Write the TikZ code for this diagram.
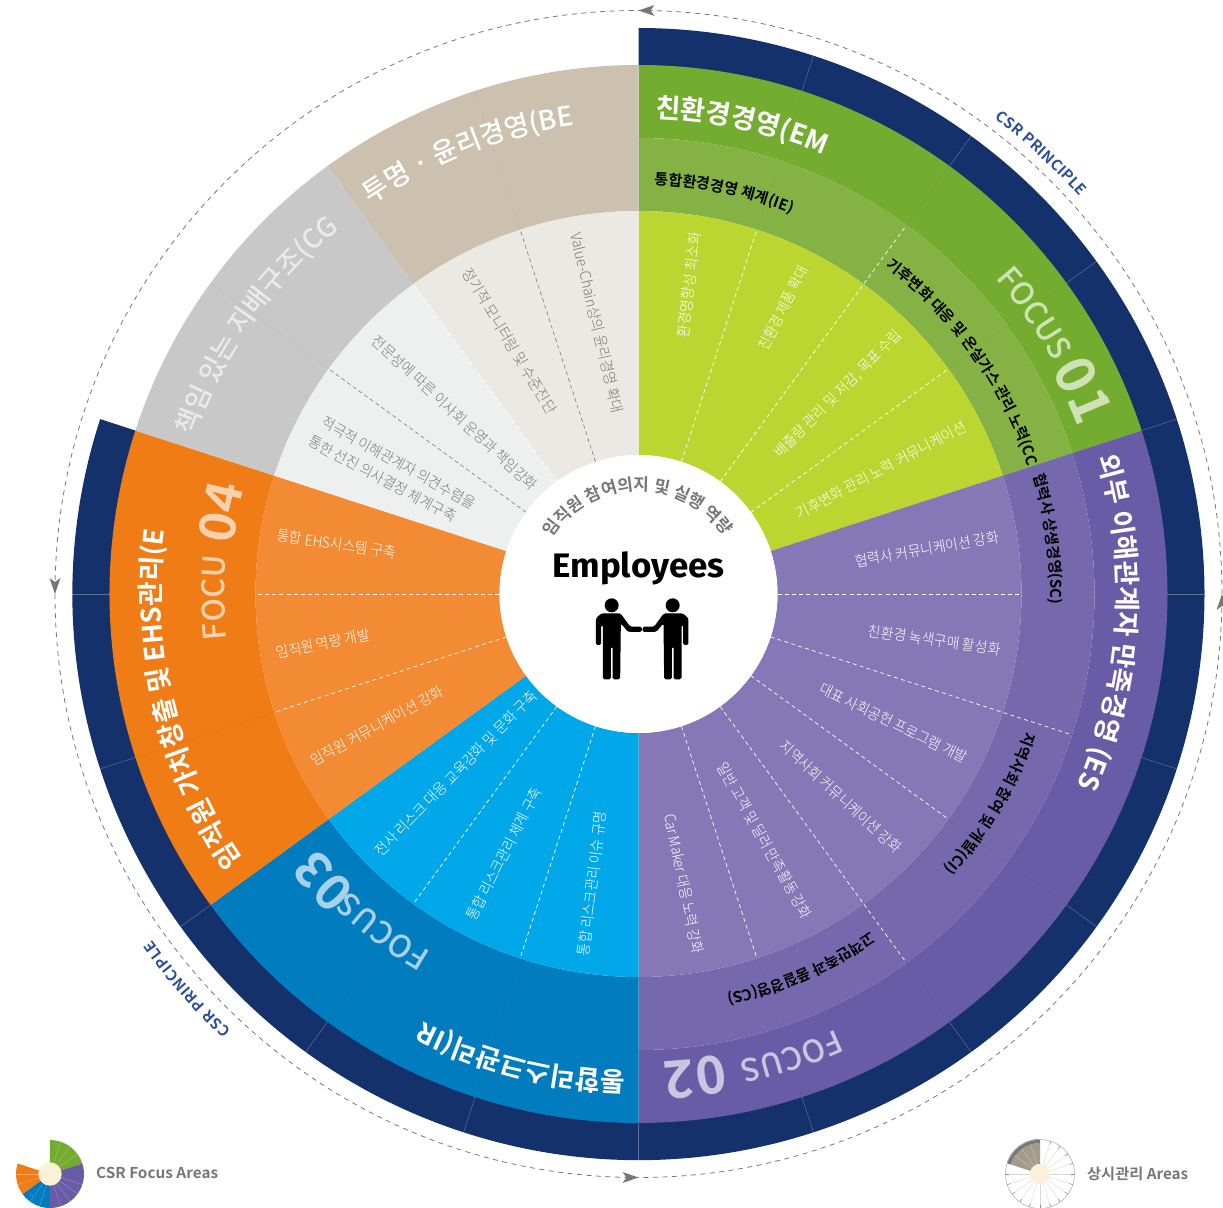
\documentclass[tikz,border=0pt]{standalone}
\usepackage{fontspec}
\usepackage{graphicx}
\usetikzlibrary{decorations.text}
\newfontfamily\krr{Noto Sans CJK KR}
\newfontfamily\krl{Noto Sans CJK KR Light}
\newfontfamily\krm{Noto Sans CJK KR Medium}
\newfontfamily\krb{Noto Sans CJK KR Bold}
\newfontfamily\firab{Fira Sans Bold}
\definecolor{navy}{HTML}{15316B}
\definecolor{gO}{HTML}{74AC2F}\definecolor{gM}{HTML}{85B244}\definecolor{gI}{HTML}{BCD631}
\definecolor{pO}{HTML}{695CA6}\definecolor{pM}{HTML}{7568AC}\definecolor{pI}{HTML}{8678B6}
\definecolor{bO}{HTML}{007CBF}\definecolor{bI}{HTML}{00A7E9}
\definecolor{oO}{HTML}{F07C15}\definecolor{oI}{HTML}{F28B33}
\definecolor{sO}{HTML}{C8C8C8}\definecolor{sI}{HTML}{EEF0EF}
\definecolor{tO}{HTML}{CCC1AF}\definecolor{tI}{HTML}{ECE8E3}
\definecolor{lgray}{HTML}{7C7A7A}\definecolor{cgray}{HTML}{7A7676}
\definecolor{csrb}{HTML}{2B4F9B}\definecolor{cream}{HTML}{FDF0D8}
\newcommand{\sect}[5]{\fill[#5] (#3:#1pt) arc[start angle=#3,end angle=#4,radius=#1pt] -- (#4:#2pt) arc[start angle=#4,end angle=#3,radius=#2pt] -- cycle;}
\newcommand{\arct}[6]{\path[decorate,decoration={text along path,text color=#2,text align={fit to path},text={|#1|#6}}] (#4:#3pt) arc[start angle=#4,end angle=#5,radius=#3pt];}
\newcounter{lblc}
\newcommand{\rl}[6]{\stepcounter{lblc}\node[#1,rotate=#4] (lbl\arabic{lblc}) at ({#2-638.5},{594-#3}) {\resizebox{#5pt}{\height}{#6}};}
\newcommand{\personshape}{%
 \fill[rounded corners=1.6pt] (-122,490) -- (-65,490) -- (-36,530) -- (-1,530) -- (-1,546) -- (-42,546) -- (-64,520) -- (-66,688) -- (-89,688) -- (-89,590) -- (-94,590) -- (-94,688) -- (-118,688) -- (-118,525) -- (-123,525) -- (-123,585) -- (-139,585) -- (-139,505) -- cycle;
 \fill (-91.5,466) circle[radius=7pt];}
\newcommand{\arrowtip}[1]{\fill[cgray,rotate=#1,shift={(583.5,0)}] (0,0) -- (-5.5,-16) -- (0,-12) -- (5.5,-16) -- cycle;}
\tikzset{
 radw/.style={inner sep=0,text=white,font=\krl\fontsize{15}{16}\selectfont},
 radg/.style={inner sep=0,text=lgray,font=\krl\fontsize{15}{16}\selectfont},
 hair/.style={line width=.4pt,black,opacity=.06},
 hairn/.style={line width=.5pt,white,opacity=.3},
 divw/.style={white,line width=.7pt,dash pattern=on 4pt off 3.2pt},
 divg/.style={lgray,line width=.6pt,dash pattern=on 4pt off 3pt},
 legendt/.style={inner sep=0,text=cgray,font=\krb\fontsize{15}{17}\selectfont},
}
\begin{document}
\begin{tikzpicture}[x=1pt,y=1pt]
\useasboundingbox (-638.5,-613) rectangle (584.5,594);
% outer dashed circle
\draw[cgray,line width=.8pt,dash pattern=on 5pt off 4.5pt] (0,0) circle[radius=583.5pt];
\arrowtip{90}\arrowtip{0}\arrowtip{180}\arrowtip{-90}
% navy ring
\sect{528}{566}{90}{-198}{navy}
% sectors
\sect{456}{529}{90}{18}{gO}\sect{383}{456}{90}{18}{gM}\sect{139}{383}{90}{18}{gI}
\sect{456}{529}{18}{-90}{pO}\sect{383}{456}{18}{-90}{pM}\sect{139}{383}{18}{-90}{pI}
\sect{383}{529}{-90}{-144}{bO}\sect{139}{383}{-90}{-144}{bI}
\sect{383}{529}{-144}{-198}{oO}\sect{139}{383}{-144}{-198}{oI}
\sect{383}{529}{162}{126}{sO}\sect{139}{383}{162}{126}{sI}
\sect{383}{529}{126}{90}{tO}\sect{139}{383}{126}{90}{tI}
% hairlines
\foreach \a in {72,54,36,18,0,-18,-36,-54,-72,-90,-108,-126,-144,180,198}{\draw[hairn] (\a:529pt) -- (\a:566pt);}
\foreach \a in {72,54,36,-18,-36,-54,-72,-108,-126,198,144,108}{\draw[hair] (\a:383pt) -- (\a:529pt);}
% dashed dividers
\foreach \a/\r in {72/383,54/455,36/383,0/383,-18/455,-36/383,-54/455,-72/383,-108/383,-126/383,180/383,198/383,126/383}{\draw[divw] (\a:139pt) -- (\a:\r pt);}
\foreach \a in {144,108}{\draw[divg] (\a:139pt) -- (\a:383pt);}
% outer ring titles
\arct{\krb\fontsize{27}{27}\selectfont}{white}{477}{88}{67}{친환경경영(EM)^^a0}
\arct{\krb\fontsize{27}{27}\selectfont}{white}{479}{16.5}{-24.2}{외부 이해관계자  만족경영 (ES)^^a0}
\arct{\krb\fontsize{27}{27}\selectfont}{white}{479}{-91.5}{-116.7}{통합리스크관리(IR)^^a0}
\arct{\krb\fontsize{27}{27}\selectfont}{white}{478}{214}{171.6}{임직원 가치창출 및 EHS관리(EV)^^a0}
\arct{\krm\fontsize{27}{27}\selectfont}{white!92!black}{472}{160.5}{129.7}{책임 있는 지배구조(CG)^^a0}
\arct{\krm\fontsize{27}{27}\selectfont}{white}{473}{124.5}{97.7}{투명 · 윤리경영(BE)^^a0}
% middle ring titles
\arct{\krb\fontsize{15}{15}\selectfont}{black}{410}{87.8}{67.6}{통합환경경영 체계(IE)^^a0}
\arct{\krb\fontsize{15}{15}\selectfont}{black}{410}{53}{17.8}{기후변화 대응 및 온실가스 관리 노력(CC)^^a0}
\arct{\krb\fontsize{15}{15}\selectfont}{black}{412}{16.7}{-1.9}{협력사 상생경영(SC)^^a0}
\arct{\krb\fontsize{15}{15}\selectfont}{black}{411}{-19.6}{-42.4}{지역사회 참여 및 개발(CI)^^a0}
\arct{\krb\fontsize{15}{15}\selectfont}{black}{410}{-55.5}{-77.4}{고객만족과 품질경영(CS)^^a0}
% focus
\arct{\krm\fontsize{31}{31}\selectfont}{gO!35!white}{476}{41.5}{29.6}{FOCUS^^a0}
\arct{\krb\fontsize{54}{54}\selectfont}{gO!35!white}{470}{28.5}{19.8}{01^^a0}
\arct{\krm\fontsize{31}{31}\selectfont}{pO!35!white}{478}{-65.5}{-78.6}{FOCUS^^a0}
\arct{\krb\fontsize{52}{52}\selectfont}{pO!35!white}{468}{-79.6}{-88.4}{02^^a0}
\arct{\krm\fontsize{31}{31}\selectfont}{bO!35!white}{414}{-120}{-133}{FOCUS^^a0}
\arct{\krb\fontsize{50}{50}\selectfont}{bO!35!white}{409}{-133.5}{-142}{03^^a0}
\arct{\krm\fontsize{31}{31}\selectfont}{oO!35!white}{414}{186.3}{173.5}{FOCUS^^a0}
\arct{\krb\fontsize{50}{50}\selectfont}{oO!35!white}{408}{173}{164.1}{04^^a0}
% radial labels
\rl{radw}{689}{285}{83}{107}{환경영향성 최소화}
\rl{radw}{783}{308}{63.5}{92}{친환경 제품 확대}
\rl{radw}{838}{394}{45}{173}{배출량 관리 및 저감, 목표 수립}
\rl{radw}{881}{470}{27.8}{190}{기후변화 관리 노력 커뮤니케이션}
\rl{radw}{927}{549}{10}{146}{협력사 커뮤니케이션 강화}
\rl{radw}{934.6}{640}{-8}{133}{친환경 녹색구매 활성화}
\rl{radw}{893.6}{723}{-26}{162}{대표 사회공헌 프로그램 개발}
\rl{radw}{841}{797}{-42.5}{158}{지역사회 커뮤니케이션 강화}
\rl{radw}{764.6}{840.7}{-60.6}{176}{일반 고객 및 딜러 만족활동 강화}
\rl{radw}{684}{883.5}{-78.4}{142}{Car Maker 대응 노력 강화}
\rl{radw}{456}{773}{45.7}{224}{전사 리스크 대응 교육강화 및 문화 구축}
\rl{radw}{504}{854}{62.8}{146}{통합 리스크관리 체계 구축}
\rl{radw}{592}{883.5}{83}{145}{통합 리스크관리 이슈 규명}
\rl{radw}{377}{726}{29}{149}{임직원 커뮤니케이션 강화}
\rl{radw}{323}{643.6}{11.7}{94.5}{임직원 역량 개발}
\rl{radw}{336.6}{544}{-8.3}{120}{통합 EHS시스템 구축}
\rl{radg}{398.6}{463}{-29}{173}{적극적 이해관계자 의견수렴을}
\rl{radg}{382.5}{479}{-28.3}{165}{통한 선진 의사결정 체계구축}
\rl{radg}{455}{413}{-42.9}{219}{전문성에 따른 이사회 운영과 책임강화}
\rl{radg}{509.6}{341}{-59}{167}{정기적 모니터링 및 수준진단}
\rl{radg}{597}{323}{-76.8}{185}{Value-Chain상의 윤리경영 확대}
% CSR principle
\arct{\krb\fontsize{15}{15}\selectfont}{csrb}{594}{53.2}{41.6}{CSR PRINCIPLE^^a0}
\arct{\krb\fontsize{15}{15}\selectfont}{csrb}{597}{-133}{-145}{CSR PRINCIPLE^^a0}
% centre
\fill[white] (0,0) circle[radius=139pt];
\arct{\krb\fontsize{17}{17}\selectfont}{cgray}{103}{147}{32}{임직원 참여의지 및 실행 역량^^a0}
\node[inner sep=0,font=\firab\fontsize{34}{36}\selectfont] (emp) at (0,25.5) {\resizebox{172pt}{\height}{Employees}};
\begin{scope}[shift={(3.67,144)},x=.3333pt,y=-.3333pt]\personshape\end{scope}
\begin{scope}[shift={(3.67,144)},x=-.3333pt,y=-.3333pt]\personshape\end{scope}
% legend left
\begin{scope}[shift={(-588.5,-580)}]
\sect{11}{34}{90}{18}{gO}\sect{11}{34}{18}{-90}{pO}\sect{11}{34}{-90}{-144}{bO}\sect{11}{34}{-144}{-198}{oO}
\foreach \a in {72,54,36,-18,-36,-54,-72,-108,-126,180,198}{\draw[white,opacity=.3,line width=.4pt] (\a:11pt) -- (\a:34pt);}
\fill[cream] (0,0) circle[radius=11.7pt];
\end{scope}
\node[legendt,anchor=west] (leg1) at (-542.5,-579) {\resizebox{122pt}{\height}{CSR Focus Areas}};
% legend right
\begin{scope}[shift={(401.5,-580)}]
\foreach \a in {72,54,36,18,0,-18,-36,-54,-72,-90,-108,-126,-144,180,198}{\draw[black!15,line width=.4pt] (\a:10pt) -- (\a:34pt);\draw[black!45,line width=.6pt] (\a:31pt) -- (\a:34.5pt);}
\sect{10}{31}{90}{162}{tO!80!black}
\foreach \a in {108,126,144}{\draw[white,opacity=.4,line width=.4pt] (\a:10pt) -- (\a:31pt);}
\sect{31}{35}{90}{162}{cgray}
\draw[black!30,line width=.6pt] (0,0) circle[radius=34.5pt];
\fill[cream] (0,0) circle[radius=10pt];
\end{scope}
\node[legendt,anchor=west] (leg2) at (448.5,-580) {\resizebox{101pt}{\height}{상시관리 Areas}};
\end{tikzpicture}
\end{document}
